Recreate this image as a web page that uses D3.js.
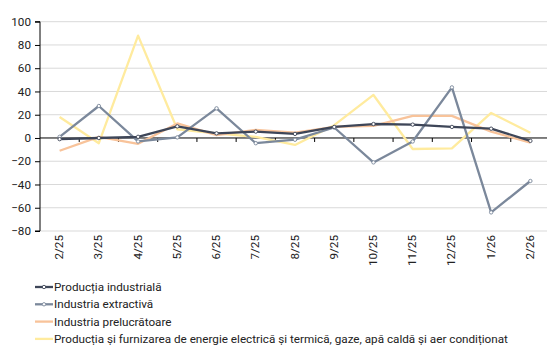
<!DOCTYPE html>
<html><head><meta charset="utf-8">
<script src="https://cdn.jsdelivr.net/npm/d3@7"></script>
<style>body{margin:0;background:#fff}svg{display:block;font-family:Roboto,sans-serif}</style>
</head><body><svg id="c" width="547" height="345"></svg>
<script>
const categories = ["2/25","3/25","4/25","5/25","6/25","7/25","8/25","9/25","10/25","11/25","12/25","1/26","2/26"];
const productiaIndustriala = [-1, 0, 1, 10, 4, 5.5, 3.5, 9.5, 12, 11.5, 9.5, 8, -2.5];
const industriaExtractiva = [1, 27.5, -3, 0.5, 25.5, -4.5, -1.5, 9, -21, -3, 43.5, -64, -37];
const industriaPrelucratoare = [-11, 1, -5, 12.5, 2.5, 7, 4.5, 9.5, 10.5, 19, 19, 5.5, -4];
const energie = [18, -4.5, 88, 7.5, 4, 1, -6, 11, 37, -9.5, -9, 21.5, 4.5];
const yTicks = [100, 80, 60, 40, 20, 0, -20, -40, -60, -80];
const seriesNames = ["Producția industrială","Industria extractivă","Industria prelucrătoare","Producția și furnizarea de energie electrică și termică, gaze, apă caldă și aer condiționat"];

const series = [
  {name: seriesNames[0], values: productiaIndustriala, color: "#3e4658", marker: true},
  {name: seriesNames[1], values: industriaExtractiva, color: "#7b889b", marker: true},
  {name: seriesNames[2], values: industriaPrelucratoare, color: "#f8c39a", marker: false},
  {name: seriesNames[3], values: energie, color: "#ffeb9e", marker: false}
];
const FS = 11.7;

const svg = d3.select("#c");
const x = d3.scaleBand().domain(categories).range([40, 550]);
const y = d3.scaleLinear().domain([-80, 100]).range([231, 21.7]);

// gridlines
svg.append("g").selectAll("line").data(yTicks.filter(d => d !== 0)).join("line")
  .attr("x1", 40).attr("x2", 547).attr("y1", d => y(d)).attr("y2", d => y(d))
  .attr("stroke", "#d9d9d9").attr("stroke-width", 1);

// y axis
const yAxis = svg.append("g").attr("transform", "translate(40,0)")
  .call(d3.axisLeft(y).tickValues(yTicks).tickSize(5).tickPadding(4));
yAxis.select(".domain").attr("stroke", "#000").attr("d", `M-5,${y(100)}H0V${y(-80)}H-5`);
yAxis.selectAll(".tick line").attr("stroke", "#000");
yAxis.selectAll("text").attr("font-size", FS).attr("fill", "#222").attr("font-family", "Roboto, sans-serif");

// zero axis with ticks at band boundaries
const zg = svg.append("g");
zg.append("line").attr("x1", 40).attr("x2", 547).attr("y1", y(0)).attr("y2", y(0)).attr("stroke", "#000");
zg.selectAll("line.t").data(categories.slice(1)).join("line").attr("class","t")
  .attr("x1", d => x(d)).attr("x2", d => x(d)).attr("y1", y(0)).attr("y2", y(0) + 4).attr("stroke", "#000");

// x labels
svg.append("g").selectAll("text").data(categories).join("text")
  .attr("transform", d => `translate(${x(d) + x.bandwidth()/2 + 3.5},235) rotate(-90)`)
  .attr("text-anchor", "end").attr("font-size", FS).attr("fill", "#222").text(d => d);

// lines
const line = d3.line().x((d, i) => x(categories[i]) + x.bandwidth()/2).y(d => y(d));
[...series].reverse().forEach(s => {
  svg.append("path").datum(s.values).attr("d", line).attr("fill", "none")
    .attr("stroke", s.color).attr("stroke-width", 2.3).attr("stroke-linejoin", "round");
});
series.filter(s => s.marker).reverse().forEach(s => {
  svg.append("g").selectAll("circle").data(s.values).join("circle")
    .attr("cx", (d, i) => x(categories[i]) + x.bandwidth()/2).attr("cy", d => y(d))
    .attr("r", 1.7).attr("fill", "#fff").attr("stroke", s.color).attr("stroke-width", 0.9);
});

// legend
const lg = svg.append("g");
series.forEach((s, i) => {
  const yy = 287 + i * 17.3;
  lg.append("line").attr("x1", 35).attr("x2", 53).attr("y1", yy).attr("y2", yy)
    .attr("stroke", s.color).attr("stroke-width", 2.3);
  if (s.marker) lg.append("circle").attr("cx", 44).attr("cy", yy).attr("r", 1.7)
    .attr("fill", "#fff").attr("stroke", s.color).attr("stroke-width", 0.9);
  lg.append("text").attr("x", 54).attr("y", yy + 4).attr("font-size", FS).attr("fill", "#222").text(s.name);
});
</script></body></html>
